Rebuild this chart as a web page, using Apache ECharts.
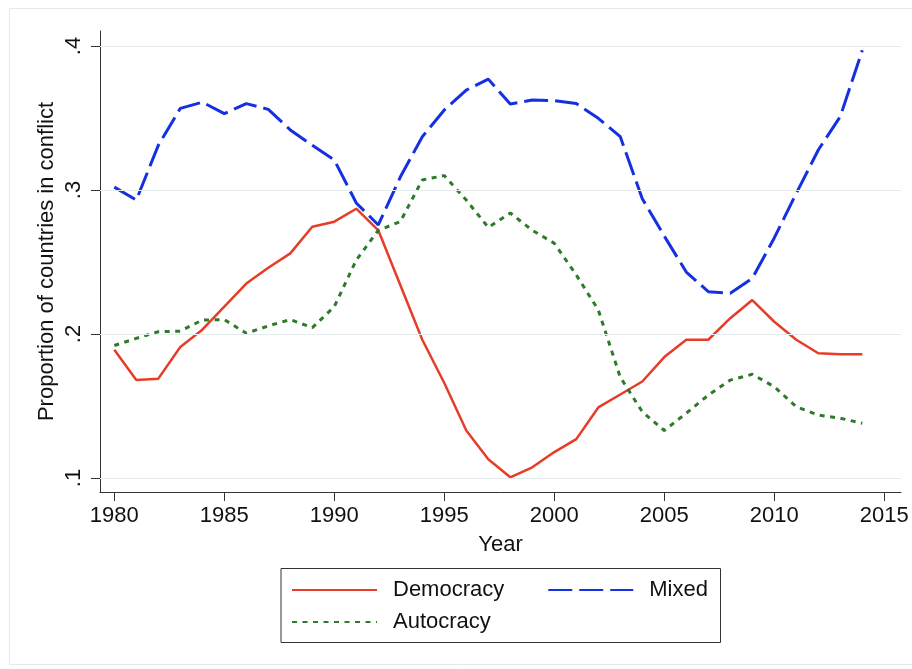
<!DOCTYPE html>
<html>
<head>
<meta charset="utf-8">
<script src="https://cdn.jsdelivr.net/npm/echarts@6/dist/echarts.min.js"></script>
<style>
html,body{margin:0;padding:0;background:#fff;overflow:hidden;}
#chart{width:912px;height:669px;}
</style>
</head>
<body>
<div id="chart"></div>
<script>
const years = [1980,1981,1982,1983,1984,1985,1986,1987,1988,1989,1990,1991,1992,1993,1994,1995,1996,1997,1998,1999,2000,2001,2002,2003,2004,2005,2006,2007,2008,2009,2010,2011,2012,2013,2014];
const democracy = [0.189,0.168,0.169,0.191,0.203,0.219,0.235,0.246,0.256,0.2745,0.278,0.287,0.272,0.234,0.196,0.166,0.133,0.113,0.1005,0.1074,0.118,0.127,0.149,0.158,0.167,0.184,0.196,0.196,0.211,0.2236,0.2085,0.196,0.1866,0.186,0.186];
const autocracy = [0.192,0.197,0.2016,0.202,0.2097,0.210,0.2005,0.2056,0.210,0.2044,0.219,0.2514,0.272,0.278,0.307,0.310,0.293,0.274,0.284,0.272,0.263,0.241,0.2167,0.170,0.146,0.133,0.145,0.1576,0.168,0.172,0.1634,0.1495,0.1437,0.1415,0.138];
const mixed = [0.302,0.293,0.331,0.3567,0.361,0.353,0.360,0.356,0.3417,0.331,0.3208,0.291,0.2757,0.309,0.337,0.3556,0.3694,0.377,0.3597,0.3625,0.362,0.360,0.3498,0.337,0.294,0.268,0.243,0.2294,0.2283,0.2387,0.2667,0.2977,0.3278,0.351,0.397];
const xTicks = [1980,1985,1990,1995,2000,2005,2010,2015];
const yTicks = [0.1,0.2,0.3,0.4];
const yTickLabels = ['.1','.2','.3','.4'];

const FONT = '"Liberation Sans", Arial, Helvetica, sans-serif';
const chart = echarts.init(document.getElementById('chart'), null, {renderer:'canvas'});
const pairs = arr => years.map((y,i)=>[y, arr[i]]);

const legendCommon = {orient:'horizontal', itemWidth:85, itemHeight:14, padding:0, selectedMode:false,
  itemStyle:{opacity:0, borderWidth:0},
  textStyle:{fontSize:22, color:'#111', fontFamily:FONT, padding:[0,0,0,11]}};

const option = {
  animation:false,
  backgroundColor:'#ffffff',
  textStyle:{fontFamily:FONT},
  graphic:[
    {type:'polyline', shape:{points:[[912,8.5],[9.5,8.5],[9.5,664.5],[912,664.5]]}, style:{fill:'none', stroke:'#e8e8e8', lineWidth:1}, silent:true, z:0},
    {type:'rect', shape:{x:281,y:568.5,width:439.5,height:74}, style:{fill:'#fff', stroke:'#333', lineWidth:1}, silent:true, z:0}
  ],
  grid:{left:100, right:11, top:31, bottom:177, containLabel:false},
  xAxis:{
    type:'value', min:1979.35, max:2015.76,
    name:'Year', nameLocation:'middle', nameGap:42, nameMoveOverlap:false,
    nameTextStyle:{fontSize:22, color:'#111', fontFamily:FONT},
    axisLine:{show:true, onZero:false, lineStyle:{color:'#333', width:1}},
    axisTick:{show:true, customValues:xTicks, length:9, lineStyle:{color:'#333', width:1}},
    axisLabel:{customValues:xTicks, fontSize:22, color:'#111', margin:13, fontFamily:FONT, formatter: v=>String(v)},
    splitLine:{show:false}
  },
  yAxis:{
    type:'value', min:0.09028, max:0.41042,
    name:'Proportion of countries in conflict', nameLocation:'middle', nameGap:42, nameMoveOverlap:false,
    nameTextStyle:{fontSize:22, color:'#111', fontFamily:FONT},
    axisLine:{show:true, onZero:false, lineStyle:{color:'#333', width:1}},
    axisTick:{show:true, customValues:yTicks, length:9, lineStyle:{color:'#333', width:1}},
    axisLabel:{customValues:yTicks, rotate:90, fontSize:22, color:'#111', margin:15, fontFamily:FONT,
      formatter: v=>{ const i = yTicks.findIndex(t=>Math.abs(t-v)<1e-6); return i>=0 ? yTickLabels[i] : ''; }},
    splitLine:{show:false}
  },
  legend:[
    Object.assign({data:['Democracy','Mixed'], left:291, top:579, itemGap:43}, legendCommon),
    Object.assign({data:['Autocracy'], left:291, top:611}, legendCommon)
  ],
  series:[
    {type:'line', name:'grid', data:[], z:1, silent:true,
      markLine:{silent:true, symbol:['none','none'], label:{show:false}, animation:false,
        lineStyle:{color:'#e3ebed', width:1, type:'solid'},
        data: yTicks.map(v=>({yAxis:v}))}},
    {type:'line', name:'Democracy', data:pairs(democracy), symbol:'none', z:3,
      lineStyle:{color:'#e63c28', width:2.5, type:'solid'}, itemStyle:{color:'#e63c28'}},
    {type:'line', name:'Mixed', data:pairs(mixed), symbol:'none', z:3,
      lineStyle:{color:'#1530e0', width:3, type:[24,7]}, itemStyle:{color:'#1530e0'}},
    {type:'line', name:'Autocracy', data:pairs(autocracy), symbol:'none', z:3,
      lineStyle:{color:'#2f7a2a', width:3, type:[5,5.5]}, itemStyle:{color:'#2f7a2a'}}
  ]
};
chart.setOption(option);
</script>
</body>
</html>
